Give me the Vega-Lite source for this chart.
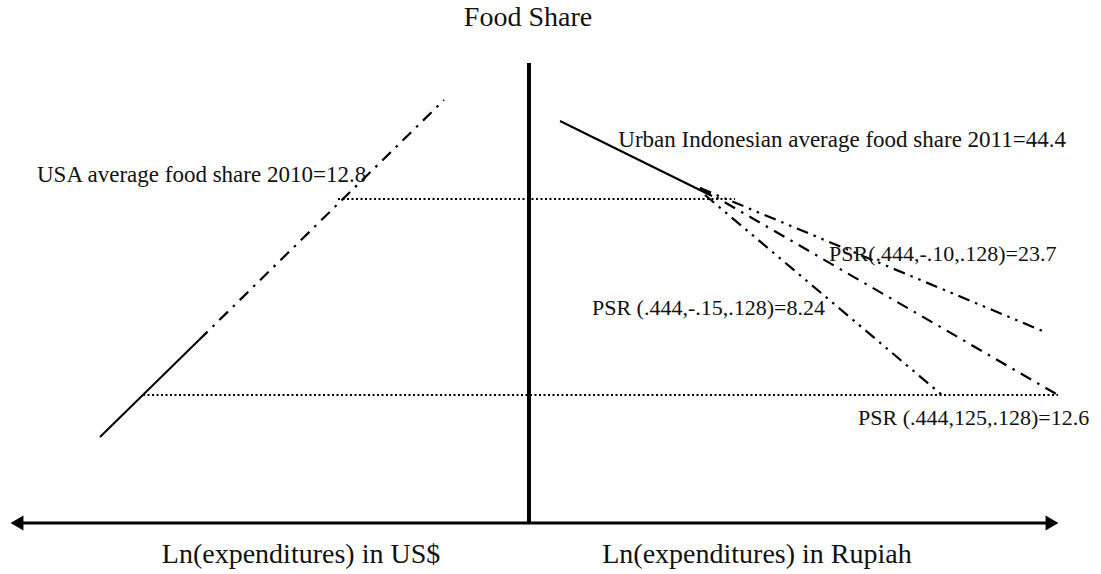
{
  "$schema": "https://vega.github.io/schema/vega-lite/v6.json",
  "width": 1101,
  "height": 574,
  "padding": 0,
  "autosize": {"type": "fit", "contains": "padding"},
  "config": {"view": {"stroke": null}},
  "background": "white",
  "datasets": {
    "lines": [
      {"line": "vaxis", "style": "axis", "x": 0, "y": 40.2, "o": 1},
      {"line": "vaxis", "style": "axis", "x": 0, "y": -5.8, "o": 2},
      {"line": "haxis", "style": "haxis", "x": -51.1, "y": -5.8, "o": 1},
      {"line": "haxis", "style": "haxis", "x": 52.2, "y": -5.8, "o": 2},
      {"line": "usa_solid", "style": "solid", "x": -42.9, "y": 2.8, "o": 1},
      {"line": "usa_solid", "style": "solid", "x": -33.0, "y": 12.5, "o": 2},
      {"line": "usa_dash", "style": "dashdot", "x": -33.0, "y": 12.5, "o": 1},
      {"line": "usa_dash", "style": "dashdot", "x": -8.5, "y": 36.5, "o": 2},
      {"line": "dot_upper", "style": "dot", "x": -19.1, "y": 26.6, "o": 1},
      {"line": "dot_upper", "style": "dot", "x": 20.6, "y": 26.6, "o": 2},
      {"line": "dot_lower", "style": "dot", "x": -38.6, "y": 7, "o": 1},
      {"line": "dot_lower", "style": "dot", "x": 52.9, "y": 7, "o": 2},
      {"line": "indo_solid", "style": "solid", "x": 3.1, "y": 34.4, "o": 1},
      {"line": "indo_solid", "style": "solid", "x": 18.3, "y": 26.9, "o": 2},
      {"line": "psr_10", "style": "dashdotdot", "x": 17.1, "y": 27.7, "o": 1},
      {"line": "psr_10", "style": "dashdotdot", "x": 51.6, "y": 13.3, "o": 2},
      {"line": "psr_125", "style": "dashdot", "x": 17.1, "y": 27.7, "o": 1},
      {"line": "psr_125", "style": "dashdot", "x": 52.9, "y": 7, "o": 2},
      {"line": "psr_15", "style": "dashdotdot", "x": 17.6, "y": 27, "o": 1},
      {"line": "psr_15", "style": "dashdotdot", "x": 41.3, "y": 7, "o": 2}
    ],
    "arrows": [
      {"end": "left", "x": -51.2, "y": -5.8},
      {"end": "right", "x": 52.3, "y": -5.8}
    ],
    "labels": [
      {"text": "Food Share", "x": -0.1, "y": 44.7, "kind": "big"},
      {"text": "Ln(expenditures) in US$", "x": -22.8, "y": -9.0, "kind": "big"},
      {"text": "Ln(expenditures) in Rupiah", "x": 22.8, "y": -9.0, "kind": "big"},
      {"text": "USA average food share 2010=12.8", "x": -49.2, "y": 29.0, "kind": "left"},
      {"text": "Urban Indonesian average food share 2011=44.4", "x": 53.7, "y": 32.5, "kind": "right"},
      {"text": "PSR(.444,-.10,.128)=23.7", "x": 30.0, "y": 21.1, "kind": "psrleft"},
      {"text": "PSR (.444,-.15,.128)=8.24", "x": 29.6, "y": 15.7, "kind": "psrright"},
      {"text": "PSR (.444,125,.128)=12.6", "x": 32.9, "y": 4.7, "kind": "psrleft"}
    ]
  },
  "encoding": {
    "x": {"field": "x", "type": "quantitative", "scale": {"domain": [-52.9, 57.2], "nice": false, "zero": false}, "axis": null},
    "y": {"field": "y", "type": "quantitative", "scale": {"domain": [-10.9, 46.5], "nice": false, "zero": false}, "axis": null}
  },
  "layer": [
    {
      "data": {"name": "lines"},
      "transform": [{"filter": "datum.style == 'axis'"}],
      "mark": {"type": "line", "color": "black", "strokeWidth": 4, "strokeCap": "butt"},
      "encoding": {"detail": {"field": "line"}, "order": {"field": "o"}}
    },
    {
      "data": {"name": "lines"},
      "transform": [{"filter": "datum.style == 'haxis'"}],
      "mark": {"type": "line", "color": "black", "strokeWidth": 3, "strokeCap": "butt"},
      "encoding": {"detail": {"field": "line"}, "order": {"field": "o"}}
    },
    {
      "data": {"name": "lines"},
      "transform": [{"filter": "datum.style == 'solid'"}],
      "mark": {"type": "line", "color": "black", "strokeWidth": 2},
      "encoding": {"detail": {"field": "line"}, "order": {"field": "o"}}
    },
    {
      "data": {"name": "lines"},
      "transform": [{"filter": "datum.style == 'dot'"}],
      "mark": {"type": "line", "color": "black", "strokeWidth": 2, "strokeDash": [2, 2.5]},
      "encoding": {"detail": {"field": "line"}, "order": {"field": "o"}}
    },
    {
      "data": {"name": "lines"},
      "transform": [{"filter": "datum.style == 'dashdot'"}],
      "mark": {"type": "line", "color": "black", "strokeWidth": 2.2, "strokeDash": [12, 7, 2.5, 7]},
      "encoding": {"detail": {"field": "line"}, "order": {"field": "o"}}
    },
    {
      "data": {"name": "lines"},
      "transform": [{"filter": "datum.style == 'dashdotdot'"}],
      "mark": {"type": "line", "color": "black", "strokeWidth": 2.2, "strokeDash": [12, 6, 2.5, 6, 2.5, 6]},
      "encoding": {"detail": {"field": "line"}, "order": {"field": "o"}}
    },
    {
      "data": {"name": "arrows"},
      "mark": {"type": "point", "filled": true, "color": "black", "opacity": 1, "size": 220},
      "encoding": {
        "shape": {"field": "end", "type": "nominal", "scale": {"domain": ["left", "right"], "range": ["triangle-left", "triangle-right"]}, "legend": null}
      }
    },
    {
      "data": {"name": "labels"},
      "transform": [{"filter": "datum.kind == 'big'"}],
      "mark": {"type": "text", "font": "Liberation Serif", "fontSize": 28, "align": "center", "baseline": "middle", "color": "#111"},
      "encoding": {"text": {"field": "text"}}
    },
    {
      "data": {"name": "labels"},
      "transform": [{"filter": "datum.kind == 'left'"}],
      "mark": {"type": "text", "font": "Liberation Serif", "fontSize": 23, "align": "left", "baseline": "middle", "color": "#111"},
      "encoding": {"text": {"field": "text"}}
    },
    {
      "data": {"name": "labels"},
      "transform": [{"filter": "datum.kind == 'right'"}],
      "mark": {"type": "text", "font": "Liberation Serif", "fontSize": 23, "align": "right", "baseline": "middle", "color": "#111"},
      "encoding": {"text": {"field": "text"}}
    },
    {
      "data": {"name": "labels"},
      "transform": [{"filter": "datum.kind == 'psrleft'"}],
      "mark": {"type": "text", "font": "Liberation Serif", "fontSize": 22, "align": "left", "baseline": "middle", "color": "#111"},
      "encoding": {"text": {"field": "text"}}
    },
    {
      "data": {"name": "labels"},
      "transform": [{"filter": "datum.kind == 'psrright'"}],
      "mark": {"type": "text", "font": "Liberation Serif", "fontSize": 22, "align": "right", "baseline": "middle", "color": "#111"},
      "encoding": {"text": {"field": "text"}}
    }
  ]
}
